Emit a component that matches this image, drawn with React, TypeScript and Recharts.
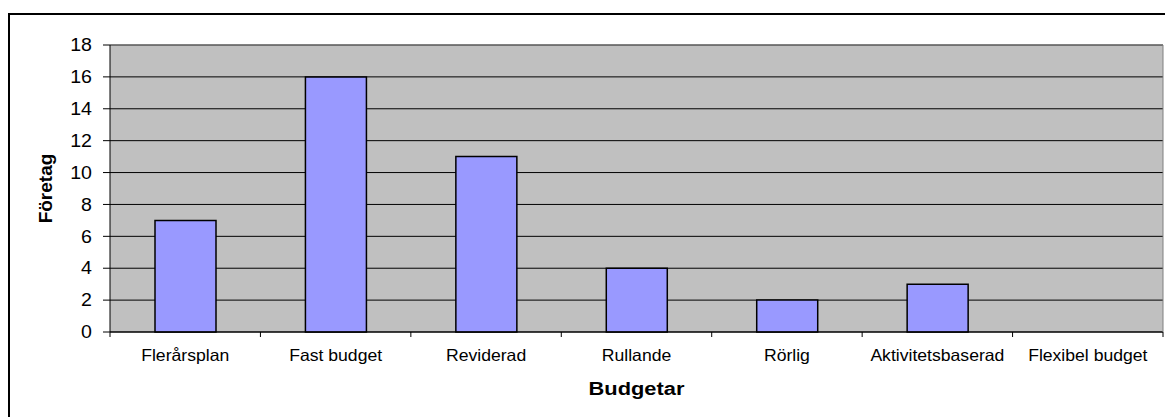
import { BarChart, Bar, XAxis, YAxis, CartesianGrid, ReferenceLine } from 'recharts'

const budgetTypes = [
  'Flerårsplan',
  'Fast budget',
  'Reviderad',
  'Rullande',
  'Rörlig',
  'Aktivitetsbaserad',
  'Flexibel budget',
]
const companyCounts = [7, 16, 11, 4, 2, 3, 0]
const yTicks = [0, 2, 4, 6, 8, 10, 12, 14, 16, 18]

const chartData = budgetTypes.map((name, i) => ({ name, count: companyCounts[i] }))

const FONT = '"Liberation Sans", Arial, sans-serif'

function XTick(props: any) {
  const { x, y, payload, index } = props
  const half = payload?.offset ?? 75
  return (
    <g>
      <line x1={x - half} y1={y} x2={x - half} y2={y + 5} stroke="#000" />
      {index === budgetTypes.length - 1 && (
        <line x1={x + half} y1={y} x2={x + half} y2={y + 5} stroke="#000" />
      )}
      <text
        transform={`translate(${x},${y + 29}) scale(1.08,1)`}
        textAnchor="middle"
        fontFamily={FONT}
        fontSize={16.3}
        fill="#000"
      >
        {payload.value}
      </text>
    </g>
  )
}

function YTick(props: any) {
  const { x, y, payload } = props
  return (
    <g>
      <line x1={x - 7} y1={y} x2={x} y2={y} stroke="#000" />
      <text
        transform={`translate(${x - 18},${y + 6.2}) scale(1.12,1)`}
        textAnchor="end"
        fontFamily={FONT}
        fontSize={17.5}
        fill="#000"
      >
        {payload.value}
      </text>
    </g>
  )
}

function YTitle(props: any) {
  const { viewBox } = props
  const cx = viewBox.x + 45
  const cy = viewBox.y + viewBox.height / 2
  return (
    <text
      transform={`translate(${cx},${cy}) rotate(-90)`}
      textAnchor="middle"
      dominantBaseline="central"
      fontFamily={FONT}
      fontWeight="bold"
      fontSize={19}
      fill="#000"
    >
      Företag
    </text>
  )
}

function XTitle(props: any) {
  const { viewBox } = props
  const cx = viewBox.x + viewBox.width / 2
  const cy = viewBox.y + 63
  return (
    <text
      transform={`translate(${cx},${cy}) scale(1.15,1)`}
      textAnchor="middle"
      fontFamily={FONT}
      fontWeight="bold"
      fontSize={19}
      fill="#000"
    >
      Budgetar
    </text>
  )
}

export default function App() {
  return (
    <div
      style={{
        position: 'fixed',
        left: 0,
        top: 0,
        width: 1165,
        height: 417,
        overflow: 'hidden',
        background: '#fff',
      }}
    >
      <div
        style={{
          position: 'absolute',
          left: 8,
          top: 13,
          width: 1200,
          height: 450,
          borderTop: '2px solid #000',
          borderLeft: '2px solid #000',
        }}
      />
      <div style={{ position: 'absolute', left: 0, top: 0 }}>
        <BarChart
          width={1165}
          height={417}
          data={chartData}
          margin={{ top: 45, right: 1, bottom: 0, left: 0 }}
        >
          <CartesianGrid
            vertical={false}
            stroke="#000"
            fill="#C0C0C0"
            fillOpacity={1}
          />
          <XAxis
            dataKey="name"
            height={85}
            tickSize={0}
            tickMargin={0}
            tickLine={false}
            axisLine={{ stroke: '#000' }}
            tick={<XTick />}
            interval={0}
            label={<XTitle />}
          />
          <YAxis
            domain={[0, 18]}
            ticks={yTicks}
            width={110}
            tickSize={0}
            tickMargin={0}
            tickLine={false}
            axisLine={{ stroke: '#000' }}
            tick={<YTick />}
            interval={0}
            label={<YTitle />}
          />
          <YAxis
            yAxisId="r"
            orientation="right"
            domain={[0, 18]}
            width={1}
            tick={false}
            tickLine={false}
            axisLine={{ stroke: '#808080' }}
          />
          <ReferenceLine y={18} stroke="#808080" />
          <Bar
            dataKey="count"
            fill="#9999FF"
            stroke="#000"
            strokeWidth={1.5}
            barSize={61}
            isAnimationActive={false}
          />
        </BarChart>
      </div>
    </div>
  )
}
